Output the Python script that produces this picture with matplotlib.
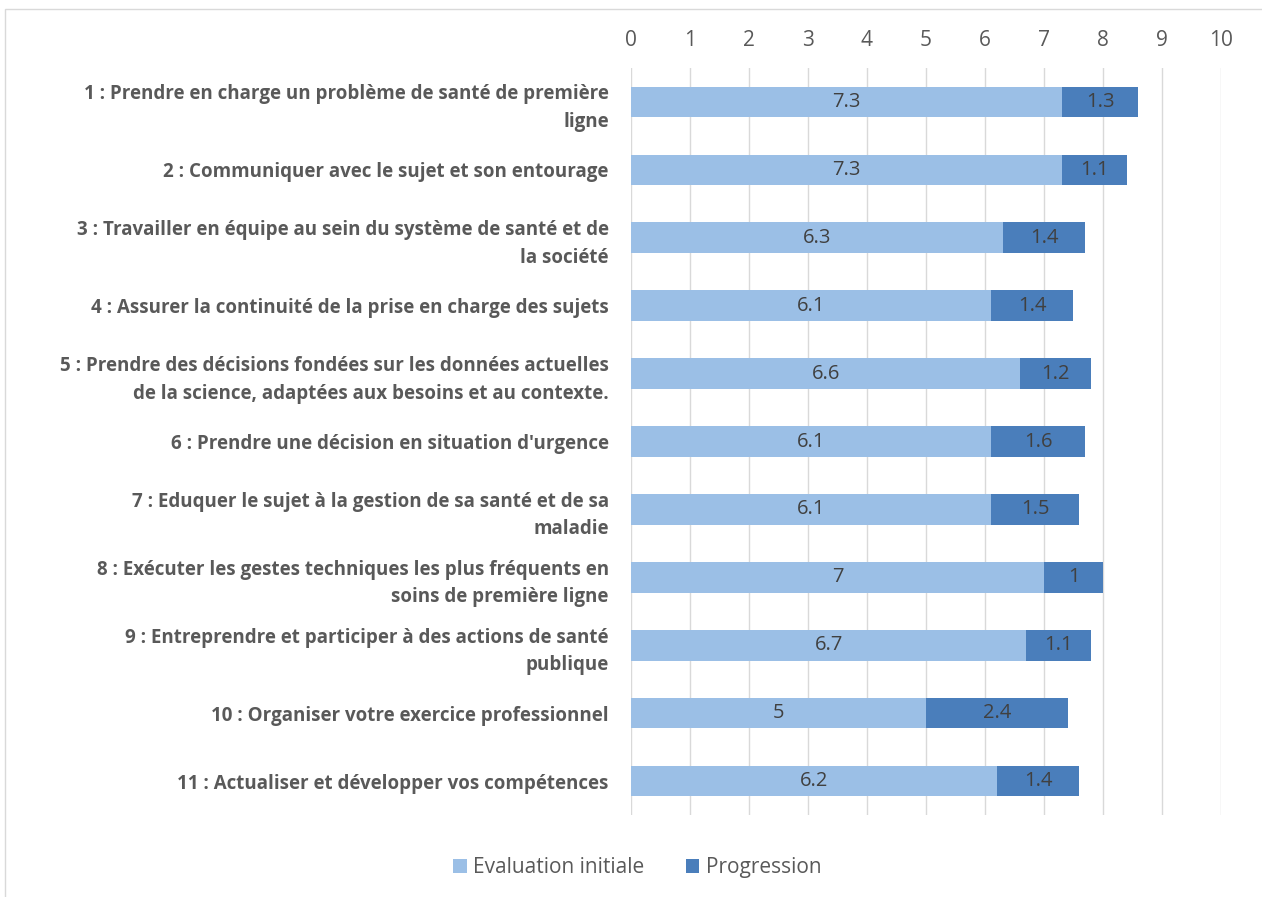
import matplotlib.pyplot as plt
from matplotlib.patches import Rectangle

labels = [
    "1 : Prendre en charge un problème de santé de première\nligne",
    "2 : Communiquer avec le sujet et son entourage",
    "3 : Travailler en équipe au sein du système de santé et de\nla société",
    "4 : Assurer la continuité de la prise en charge des sujets",
    "5 : Prendre des décisions fondées sur les données actuelles\nde la science, adaptées aux besoins et au contexte.",
    "6 : Prendre une décision en situation d'urgence",
    "7 : Eduquer le sujet à la gestion de sa santé et de sa\nmaladie",
    "8 : Exécuter les gestes techniques les plus fréquents en\nsoins de première ligne",
    "9 : Entreprendre et participer à des actions de santé\npublique",
    "10 : Organiser votre exercice professionnel",
    "11 : Actualiser et développer vos compétences",
]
initiale = [7.3, 7.3, 6.3, 6.1, 6.6, 6.1, 6.1, 7, 6.7, 5, 6.2]
progression = [1.3, 1.1, 1.4, 1.4, 1.2, 1.6, 1.5, 1, 1.1, 2.4, 1.4]

c_init = '#9bbfe6'
c_prog = '#4a7ebb'
grey = '#595959'

plt.rcParams['font.family'] = ['Open Sans', 'DejaVu Sans']

fig = plt.figure(figsize=(12.62, 8.97), dpi=100)
ax = fig.add_axes([0.5, 0.0914, 0.4675, 0.8328])

y = list(range(len(labels)))
b1 = ax.barh(y, initiale, height=0.45, color=c_init, label='Evaluation initiale', zorder=3)
b2 = ax.barh(y, progression, left=initiale, height=0.45, color=c_prog, label='Progression', zorder=3)

# valeurs au centre de chaque segment
for bars, vals in [(b1, initiale), (b2, progression)]:
    for bar, v in zip(bars, vals):
        cx = bar.get_x() + bar.get_width() / 2
        cy = bar.get_y() + bar.get_height() / 2
        ax.text(cx, cy, f'{v:g}', ha='center', va='center', fontsize=14.5, color='#404040', zorder=4)

ax.set_xlim(0, 10)
ax.set_ylim(len(labels) - 0.5, -0.5)
ax.set_xticks(range(11))
ax.xaxis.tick_top()
ax.tick_params(axis='x', length=0, pad=12, labelsize=15, labelcolor=grey)
ax.set_yticks(y)
ax.set_yticklabels(labels, fontsize=13.5, fontweight='bold', color=grey, linespacing=1.5)
ax.tick_params(axis='y', length=0, pad=16)
ax.grid(axis='x', color='#d9d9d9', linewidth=1, zorder=0)
for s in ax.spines.values():
    s.set_visible(False)

fig.legend(handles=[b1, b2], loc='center', bbox_to_anchor=(0.505, 0.033), ncol=2,
           frameon=False, fontsize=15, labelcolor=grey, handlelength=0.65,
           handleheight=0.65, handletextpad=0.3, columnspacing=2)

fig.patches.append(Rectangle((0.004, -0.01), 1.2, 1.0, transform=fig.transFigure,
                             fill=False, edgecolor='#d9d9d9', linewidth=1))

fig.savefig('out.png', dpi=100)
